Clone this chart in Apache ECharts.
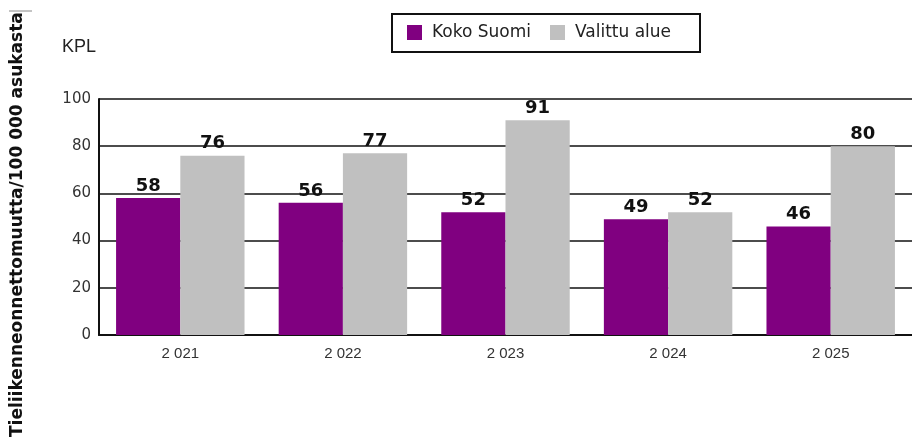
<!DOCTYPE html>
<html>
<head>
<meta charset="utf-8">
<script src="https://cdn.jsdelivr.net/npm/echarts@6/dist/echarts.min.js"></script>
<style>
  html, body { margin: 0; padding: 0; background: #fff; }
  #chart { width: 912px; height: 437px; }
</style>
</head>
<body>
<div id="chart"></div>
<script>
// Years shown along the x axis
const years = ['2 021', '2 022', '2 023', '2 024', '2 025'];
// Road accidents per 100 000 inhabitants
const kokoSuomi = [58, 56, 52, 49, 46];
const valittuAlue = [76, 77, 91, 52, 80];
// Y axis ticks
const yTicks = [0, 20, 40, 60, 80, 100];

const FONT = 'DejaVu Sans, Verdana, sans-serif';

const chart = echarts.init(document.getElementById('chart'), null, { renderer: 'canvas' });

const valueLabel = {
  show: true,
  position: 'top',
  distance: 3,
  fontFamily: FONT,
  fontWeight: 'bold',
  fontSize: 18,
  color: '#111'
};

chart.setOption({
  animation: false,
  backgroundColor: '#fff',
  grid: { left: 99, top: 99, right: -5, bottom: 102, containLabel: false },
  legend: {
    top: 19,
    left: 402,
    padding: [5, 5, 5, 5],
    itemWidth: 15,
    itemHeight: 15,
    itemGap: 19,
    icon: 'rect',
    textStyle: { fontFamily: FONT, fontSize: 17, color: '#222', padding: [0, 0, 0, 5] },
    data: ['Koko Suomi', 'Valittu alue']
  },
  xAxis: {
    type: 'category',
    data: years,
    axisLine: { show: true, lineStyle: { color: '#111', width: 2 } },
    axisTick: { show: false },
    axisLabel: { fontFamily: 'Liberation Sans, Arial, sans-serif', fontSize: 15, color: '#333', margin: 11 }
  },
  yAxis: {
    type: 'value',
    min: yTicks[0],
    max: yTicks[yTicks.length - 1],
    interval: 20,
    axisLine: { show: true, lineStyle: { color: '#111', width: 2 } },
    axisTick: { show: false },
    axisLabel: { fontFamily: FONT, fontSize: 15, color: '#333', margin: 8 },
    splitLine: { show: true, lineStyle: { color: '#111', width: 1.5 } }
  },
  series: [
    {
      name: 'Koko Suomi',
      type: 'bar',
      data: kokoSuomi,
      itemStyle: { color: '#800080' },
      barGap: '0%',
      barCategoryGap: '21%',
      label: valueLabel
    },
    {
      name: 'Valittu alue',
      type: 'bar',
      data: valittuAlue,
      itemStyle: { color: '#c0c0c0' },
      label: valueLabel
    }
  ],
  graphic: [
    {
      type: 'rect',
      shape: { x: 392, y: 14, width: 308, height: 38 },
      style: { fill: 'none', stroke: '#111', lineWidth: 2 }
    },
    {
      type: 'text',
      left: 62,
      top: 38,
      style: { text: 'KPL', fontFamily: 'Liberation Sans, Arial, sans-serif', fontSize: 18, fill: '#222' }
    },
    {
      type: 'text',
      x: 18,
      y: 437,
      rotation: Math.PI / 2,
      style: {
        text: 'Tieliikenneonnettomuutta/100 000 asukasta',
        fontFamily: FONT,
        fontWeight: 'bold',
        fontSize: 17,
        fill: '#111',
        align: 'left',
        verticalAlign: 'middle'
      },
      originX: 0,
      originY: 0
    },
    {
      type: 'line',
      shape: { x1: 9, y1: 11, x2: 32, y2: 11 },
      style: { stroke: '#888', lineWidth: 1 }
    }
  ]
});
</script>
</body>
</html>
